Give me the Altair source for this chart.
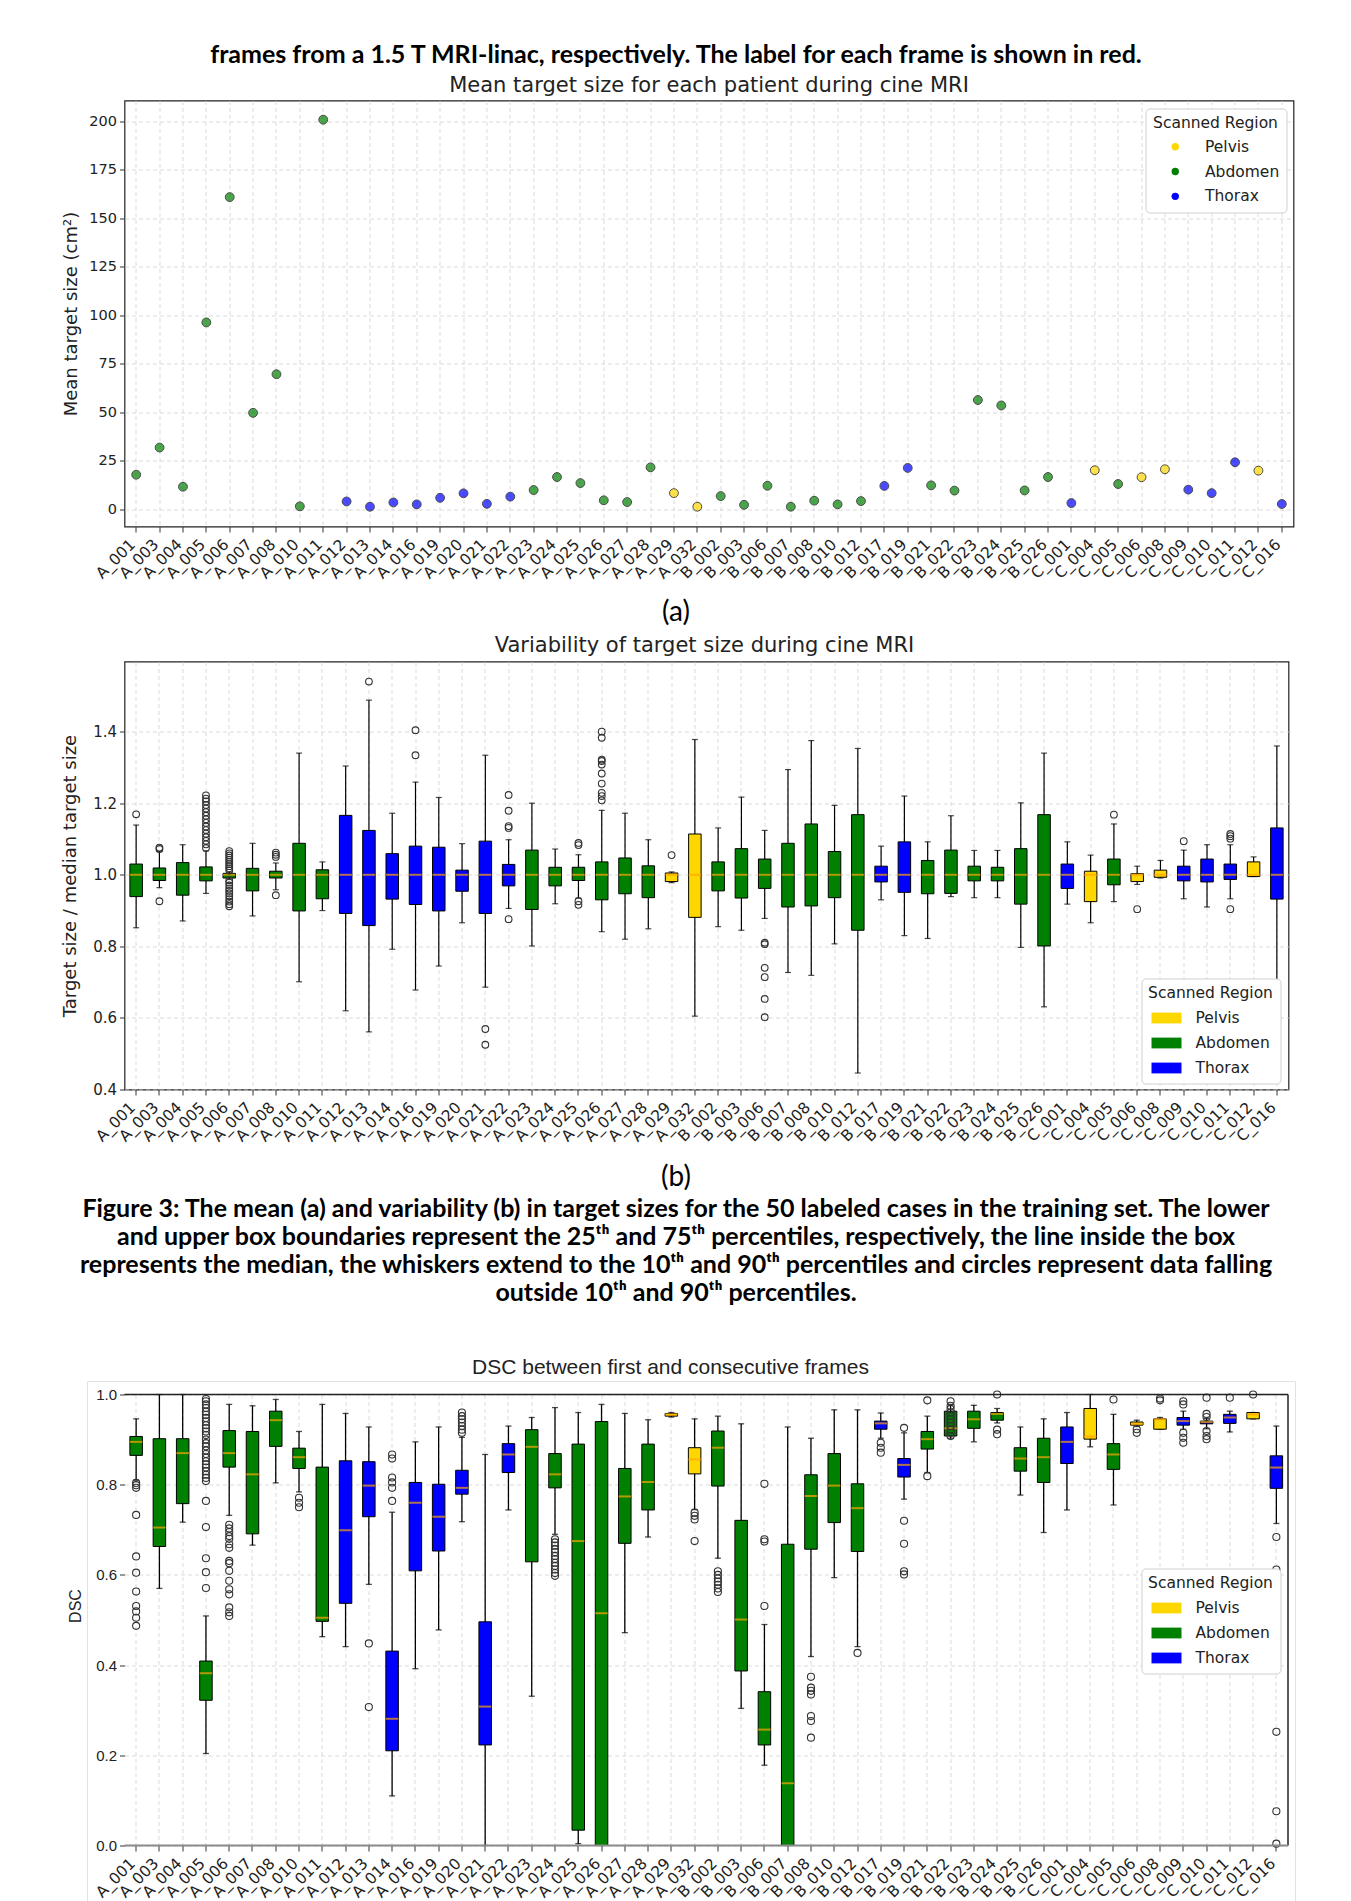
import altair as alt
import pandas as pd

# ---------------------------------------------------------------- data
CATS = ["A_001", "A_003", "A_004", "A_005", "A_006", "A_007", "A_008", "A_010", "A_011", "A_012",
        "A_013", "A_014", "A_016", "A_019", "A_020", "A_021", "A_022", "A_023", "A_024", "A_025",
        "A_026", "A_027", "A_028", "A_029", "A_032", "B_002", "B_003", "B_006", "B_007", "B_008",
        "B_010", "B_012", "B_017", "B_019", "B_021", "B_022", "B_023", "B_024", "B_025", "B_026",
        "C_001", "C_004", "C_005", "C_006", "C_008", "C_009", "C_010", "C_011", "C_012", "C_016"]

REGION = ["Abdomen", "Abdomen", "Abdomen", "Abdomen", "Abdomen", "Abdomen", "Abdomen", "Abdomen", "Abdomen", "Thorax",
          "Thorax", "Thorax", "Thorax", "Thorax", "Thorax", "Thorax", "Thorax", "Abdomen", "Abdomen", "Abdomen",
          "Abdomen", "Abdomen", "Abdomen", "Pelvis", "Pelvis", "Abdomen", "Abdomen", "Abdomen", "Abdomen", "Abdomen",
          "Abdomen", "Abdomen", "Thorax", "Thorax", "Abdomen", "Abdomen", "Abdomen", "Abdomen", "Abdomen", "Abdomen",
          "Thorax", "Pelvis", "Abdomen", "Pelvis", "Pelvis", "Thorax", "Thorax", "Thorax", "Pelvis", "Thorax"]

# (a) mean target size (cm^2)
MEAN_SIZE = [17.9, 31.9, 11.7, 96.4, 161.0, 49.8, 69.7, 1.6, 200.9, 4.1,
             1.4, 3.6, 2.6, 6.0, 8.3, 2.9, 6.6, 10.0, 16.7, 13.6,
             4.7, 3.8, 21.7, 8.4, 1.4, 6.9, 2.4, 12.2, 1.4, 4.5,
             2.6, 4.3, 12.1, 21.4, 12.4, 9.7, 56.4, 53.6, 9.8, 16.7,
             3.3, 20.2, 13.1, 16.6, 20.7, 10.2, 8.4, 24.3, 20.0, 2.8]

# (b) target size / median target size
REL_Q1 = [0.939, 0.984, 0.943, 0.983, 0.991, 0.955, 0.991, 0.899, 0.933, 0.892,
          0.858, 0.932, 0.917, 0.899, 0.954, 0.892, 0.969, 0.903, 0.969, 0.984,
          0.930, 0.947, 0.936, 0.981, 0.881, 0.955, 0.935, 0.962, 0.910, 0.913,
          0.936, 0.845, 0.980, 0.951, 0.947, 0.948, 0.983, 0.983, 0.918, 0.801,
          0.962, 0.925, 0.972, 0.981, 0.993, 0.983, 0.980, 0.987, 0.995, 0.932]
REL_MED = [1.0, 1.0, 1.0, 1.0, 1.0, 1.0, 1.0, 1.0, 1.0, 1.0,
           1.0, 1.0, 1.0, 1.0, 1.0, 1.0, 1.0, 1.0, 1.0, 1.0,
           1.0, 1.0, 1.0, 1.0, 1.0, 1.0, 1.0, 1.0, 1.0, 1.0,
           1.0, 1.0, 1.0, 1.0, 1.0, 1.0, 1.0, 1.0, 1.0, 1.0,
           1.0, 1.0, 1.0, 1.0, 1.0, 1.0, 1.0, 1.0, 1.0, 1.0]
REL_Q3 = [1.030, 1.019, 1.034, 1.022, 1.004, 1.018, 1.010, 1.088, 1.014, 1.166,
          1.124, 1.059, 1.080, 1.077, 1.013, 1.094, 1.029, 1.069, 1.021, 1.021,
          1.036, 1.047, 1.025, 1.005, 1.114, 1.036, 1.073, 1.044, 1.088, 1.142,
          1.065, 1.168, 1.024, 1.092, 1.040, 1.069, 1.024, 1.021, 1.073, 1.168,
          1.030, 1.010, 1.044, 1.003, 1.013, 1.024, 1.044, 1.030, 1.036, 1.131]
REL_LO = [0.852, 0.964, 0.871, 0.948, 0.988, 0.885, 0.958, 0.701, 0.900, 0.620,
          0.561, 0.792, 0.678, 0.745, 0.866, 0.686, 0.906, 0.801, 0.919, 0.935,
          0.841, 0.820, 0.849, 0.978, 0.605, 0.855, 0.845, 0.878, 0.727, 0.719,
          0.807, 0.446, 0.930, 0.830, 0.822, 0.939, 0.936, 0.936, 0.797, 0.631,
          0.918, 0.866, 0.925, 0.973, 0.991, 0.933, 0.910, 0.933, 0.995, 0.620]
REL_HI = [1.139, 1.065, 1.084, 1.067, 1.007, 1.088, 1.033, 1.340, 1.036, 1.304,
          1.488, 1.172, 1.259, 1.216, 1.087, 1.334, 1.098, 1.200, 1.072, 1.056,
          1.180, 1.172, 1.098, 1.008, 1.378, 1.131, 1.217, 1.124, 1.294, 1.375,
          1.194, 1.353, 1.080, 1.220, 1.092, 1.165, 1.068, 1.068, 1.201, 1.340,
          1.092, 1.055, 1.142, 1.024, 1.040, 1.069, 1.084, 1.084, 1.050, 1.360]
REL_OUT = {
    "A_001": [1.169],
    "A_003": [1.072, 1.076, 0.926],
    "A_005": [1.075, 1.085, 1.095, 1.105, 1.115, 1.125, 1.135, 1.145, 1.155, 1.165,
              1.175, 1.185, 1.195, 1.205, 1.213, 1.222],
    "A_006": [1.012, 1.018, 1.024, 1.030, 1.036, 1.042, 1.048, 1.054, 1.060, 1.066,
              0.985, 0.978, 0.970, 0.962, 0.955, 0.948, 0.940, 0.932, 0.925, 0.918, 0.912],
    "A_008": [1.050, 1.056, 1.062, 0.943],
    "A_013": [1.540],
    "A_016": [1.404, 1.334],
    "A_021": [0.569, 0.525],
    "A_022": [1.223, 1.179, 1.136, 1.131, 0.876],
    "A_025": [1.089, 1.083, 0.926, 0.916],
    "A_026": [1.208, 1.220, 1.229, 1.255, 1.283, 1.308, 1.318, 1.322, 1.383, 1.400],
    "A_029": [1.055],
    "B_006": [0.810, 0.806, 0.740, 0.714, 0.653, 0.602],
    "C_005": [1.168],
    "C_006": [0.904],
    "C_009": [1.094],
    "C_011": [1.114, 1.108, 1.101, 0.904],
}

# DSC between first and consecutive frames
DSC_Q1 = [0.865, 0.663, 0.758, 0.322, 0.839, 0.691, 0.885, 0.836, 0.497, 0.537,
          0.729, 0.210, 0.609, 0.653, 0.779, 0.223, 0.827, 0.629, 0.793, 0.034,
          0.000, 0.670, 0.744, 0.952, 0.824, 0.797, 0.387, 0.223, 0.000, 0.657,
          0.716, 0.652, 0.923, 0.817, 0.879, 0.908, 0.925, 0.943, 0.830, 0.805,
          0.847, 0.901, 0.834, 0.932, 0.923, 0.932, 0.935, 0.936, 0.946, 0.792]
DSC_MED = [0.895, 0.705, 0.870, 0.382, 0.870, 0.823, 0.943, 0.861, 0.505, 0.699,
           0.798, 0.281, 0.760, 0.729, 0.793, 0.308, 0.867, 0.884, 0.823, 0.675,
           0.515, 0.774, 0.806, 0.956, 0.856, 0.882, 0.501, 0.257, 0.138, 0.775,
           0.798, 0.748, 0.936, 0.844, 0.901, 0.925, 0.945, 0.957, 0.858, 0.861,
           0.895, 0.907, 0.867, 0.935, 0.945, 0.941, 0.939, 0.949, 0.956, 0.838]
DSC_Q3 = [0.907, 0.902, 0.902, 0.409, 0.920, 0.918, 0.963, 0.881, 0.839, 0.853,
          0.851, 0.431, 0.805, 0.801, 0.832, 0.496, 0.891, 0.922, 0.869, 0.890,
          0.940, 0.836, 0.890, 0.958, 0.882, 0.919, 0.721, 0.341, 0.668, 0.822,
          0.869, 0.802, 0.941, 0.858, 0.918, 0.963, 0.963, 0.960, 0.882, 0.903,
          0.928, 0.969, 0.891, 0.939, 0.946, 0.949, 0.941, 0.956, 0.960, 0.864]
DSC_LO = [0.810, 0.570, 0.717, 0.204, 0.732, 0.666, 0.804, 0.784, 0.463, 0.441,
          0.579, 0.110, 0.392, 0.478, 0.718, 0.000, 0.744, 0.331, 0.690, 0.004,
          0.000, 0.472, 0.684, 0.950, 0.745, 0.637, 0.304, 0.178, 0.000, 0.419,
          0.594, 0.441, 0.903, 0.768, 0.827, 0.903, 0.895, 0.937, 0.777, 0.694,
          0.744, 0.884, 0.755, 0.929, 0.923, 0.923, 0.924, 0.917, 0.946, 0.714]
DSC_HI = [0.946, 1.000, 1.000, 0.509, 0.978, 0.975, 0.989, 0.918, 0.978, 0.958,
          0.928, 0.739, 0.895, 0.928, 0.905, 0.867, 0.930, 0.949, 0.971, 0.960,
          0.978, 0.958, 0.944, 0.960, 0.946, 0.952, 0.935, 0.490, 0.928, 0.903,
          0.966, 0.966, 0.959, 0.915, 0.952, 0.978, 0.976, 0.969, 0.928, 0.946,
          0.960, 1.000, 0.956, 0.943, 0.949, 0.963, 0.947, 0.963, 0.960, 0.930]
DSC_OUT = {
    "A_001": [0.804, 0.799, 0.793, 0.733, 0.641, 0.605, 0.563, 0.531, 0.519, 0.505, 0.487],
    "A_005": [0.990, 0.985, 0.978, 0.970, 0.962, 0.955, 0.948, 0.940, 0.932, 0.925,
              0.918, 0.910, 0.900, 0.892, 0.885, 0.876, 0.868, 0.860, 0.852, 0.845,
              0.838, 0.830, 0.822, 0.815, 0.808, 0.764, 0.706, 0.637, 0.606, 0.571],
    "A_006": [0.711, 0.703, 0.695, 0.686, 0.680, 0.668, 0.660, 0.631, 0.626, 0.609,
              0.587, 0.568, 0.557, 0.528, 0.517, 0.509],
    "A_010": [0.771, 0.760, 0.750],
    "A_013": [0.448, 0.307],
    "A_014": [0.867, 0.858, 0.816, 0.805, 0.793, 0.764],
    "A_020": [0.960, 0.952, 0.945, 0.938, 0.930, 0.922, 0.915],
    "A_024": [0.679, 0.672, 0.665, 0.657, 0.650, 0.642, 0.635, 0.627, 0.620, 0.612, 0.604, 0.598],
    "A_032": [0.738, 0.731, 0.723, 0.675],
    "B_002": [0.608, 0.600, 0.592, 0.585, 0.578, 0.570, 0.562],
    "B_006": [0.802, 0.679, 0.674, 0.531],
    "B_008": [0.374, 0.350, 0.343, 0.335, 0.287, 0.276, 0.239],
    "B_012": [0.427],
    "B_017": [0.893, 0.882, 0.871],
    "B_019": [0.926, 0.720, 0.669, 0.608, 0.601],
    "B_021": [0.987, 0.819],
    "B_022": [0.985, 0.975, 0.968, 0.960, 0.952, 0.945, 0.938, 0.930, 0.922, 0.915, 0.908],
    "B_024": [1.000, 0.922, 0.912],
    "C_005": [0.989],
    "C_006": [0.923, 0.915],
    "C_008": [0.991, 0.987],
    "C_009": [0.985, 0.978, 0.915, 0.904, 0.893],
    "C_010": [0.993, 0.957, 0.950, 0.919, 0.908, 0.901],
    "C_011": [0.993],
    "C_012": [1.000],
    "C_016": [0.684, 0.612, 0.252, 0.076, 0.004],
}

REGIONS = ["Pelvis", "Abdomen", "Thorax"]
REGION_COLORS = ["#FFD700", "#008000", "#0000FF"]

TOP_LINE = "frames from a 1.5 T MRI-linac, respectively. The label for each frame is shown in red."
TITLE_A = "Mean target size for each patient during cine MRI"
TITLE_B = "Variability of target size during cine MRI"
TITLE_C = "DSC between first and consecutive frames"
CAPTION = ("Figure 3: The mean (a) and variability (b) in target sizes for the 50 labeled cases in the training set. The lower\n"
           "and upper box boundaries represent the 25\u1d57\u02b0 and 75\u1d57\u02b0 percentiles, respectively, the line inside the box\n"
           "represents the median, the whiskers extend to the 10\u1d57\u02b0 and 90\u1d57\u02b0 percentiles and circles represent data falling\n"
           "outside 10\u1d57\u02b0 and 90\u1d57\u02b0 percentiles.")

# ---------------------------------------------------------------- helpers
MPL = "DejaVu Sans"
ARIAL = "Liberation Sans"
PAGE = "Lato"
GRID = dict(grid=True, gridColor="#d2d2d2", gridDash=[4, 3], gridWidth=0.8)
PAGE_CX = 551.5          # page centre, relative to the plot areas' left edge
one = pd.DataFrame({"k": [0]})


def color_enc(leg):
    return alt.Color("region:N", scale=alt.Scale(domain=REGIONS, range=REGION_COLORS), legend=leg)


def x_enc(font=MPL):
    return alt.X("cat:N", sort=CATS,
                 scale=alt.Scale(type="band", paddingInner=0, paddingOuter=0),
                 axis=alt.Axis(title=None, labelAngle=-45, labelAlign="right", labelBaseline="alphabetic",
                               labelFont=font, labelFontSize=15.5, labelColor="#222", labelPadding=13,
                               labelOverlap=False, labelBound=False, labelFlush=False,
                               tickSize=5.5, tickColor="#333", tickWidth=1, domain=False,
                               bandPosition=0.5, **GRID))


def text_layer(txt, x, y, size, font, weight="normal", color="#000", line_height=None):
    kw = dict(align="center", baseline="alphabetic", font=font, fontSize=size,
              fontWeight=weight, color=color)
    if line_height:
        kw.update(lineBreak="\n", lineHeight=line_height)
    return alt.Chart(pd.DataFrame({"t": [txt]})).mark_text(**kw).encode(
        text="t:N", x=alt.value(x), y=alt.value(y))


def legend(x, y, circle):
    common = dict(title="Scanned Region", orient="none", legendX=x, legendY=y,
                  titleFont=MPL, titleFontSize=15.5, titleFontWeight="normal", titleColor="#222",
                  titleAnchor="middle",
                  labelFont=MPL, labelFontSize=15.5, labelColor="#222",
                  symbolStrokeWidth=0, symbolOpacity=1, padding=7,
                  strokeColor="#cfcfcf", cornerRadius=4, fillColor="white")
    if circle:
        return alt.Legend(symbolType="circle", symbolSize=55, symbolOffset=15, titlePadding=8,
                          labelOffset=22, rowPadding=7.8, **common)
    return alt.Legend(symbolType="M-1.25,-0.45H1.25V0.45H-1.25Z", symbolSize=576, symbolOffset=4,
                      titlePadding=5, labelOffset=17, rowPadding=4, **common)


def boxplot(stats, outs, y_scale, y_axis, leg, out_size, whisk_w=1.2):
    base = alt.Chart(stats)

    def Y(f):
        return alt.Y(f, scale=y_scale, axis=y_axis)

    whisk = base.mark_rule(color="black", strokeWidth=whisk_w).encode(x=x_enc(), y=Y("lo:Q"), y2="hi:Q")
    cap_lo = base.mark_tick(color="black", size=6, thickness=whisk_w).encode(x=x_enc(), y=Y("lo:Q"))
    cap_hi = base.mark_tick(color="black", size=6, thickness=whisk_w).encode(x=x_enc(), y=Y("hi:Q"))
    box = base.mark_bar(size=12.5, stroke="black", strokeWidth=1).encode(
        x=x_enc(), y=Y("q1:Q"), y2="q3:Q", color=color_enc(leg))
    med = base.mark_tick(color="#FFA500", size=12.5, thickness=2).encode(x=x_enc(), y=Y("med:Q"))
    pts = alt.Chart(outs).mark_point(shape="circle", filled=False, size=out_size,
                                     color="#333", strokeWidth=1.1, opacity=1).encode(x=x_enc(), y=Y("v:Q"))
    return [whisk, cap_lo, cap_hi, box, med, pts]


def y_axis(values, title, tx, ty, font=MPL, size=14.5, title_size=18, fmt=None):
    kw = dict(values=values, title=title, titleX=tx, titleY=ty, titleAngle=-90, titleAlign="center",
              titleBaseline="middle", titleFont=font, titleFontSize=title_size, titleFontWeight="normal",
              titleColor="#222", labelFont=font, labelFontSize=size, labelColor="#222", labelPadding=3,
              tickSize=5, tickColor="#333", domain=False, **GRID)
    if fmt:
        kw["format"] = fmt
    return alt.Axis(**kw)


# ---------------------------------------------------------------- chart (a)
WA, HA = 1169, 426
df_a = pd.DataFrame({"cat": CATS, "region": REGION, "v": MEAN_SIZE})
ya = alt.Y("v:Q", scale=alt.Scale(domain=[-8.8, 210.8], nice=False, zero=False),
           axis=y_axis([0, 25, 50, 75, 100, 125, 150, 175, 200], "Mean target size (cm\u00b2)", -53, HA / 2))
scatter = alt.Chart(df_a).mark_point(filled=True, size=78, opacity=0.7, stroke="black",
                                     strokeWidth=1, shape="circle").encode(
    x=x_enc(), y=ya, color=color_enc(legend(1021, 8, True)))
anchor = alt.Chart(one).mark_rule(strokeOpacity=0, strokeWidth=1).encode(
    x=alt.value(-80), y=alt.value(-70), y2=alt.value(-60))
chart_a = alt.layer(
    anchor,
    scatter,
    text_layer(TOP_LINE, PAGE_CX, -38, 25, PAGE, "bold"),
    text_layer(TITLE_A, WA / 2, -8.5, 21, MPL, color="#222"),
    text_layer("(a)", PAGE_CX, 520, 28, PAGE),
).properties(width=WA, height=HA, view=alt.ViewBackground(stroke="#222", strokeWidth=1.2))

# ---------------------------------------------------------------- chart (b)
WB, HB = 1164, 428
stats_b = pd.DataFrame({"cat": CATS, "region": REGION, "q1": REL_Q1, "med": REL_MED,
                        "q3": REL_Q3, "lo": REL_LO, "hi": REL_HI})
outs_b = pd.DataFrame([(c, v) for c in CATS for v in REL_OUT.get(c, [])], columns=["cat", "v"])
yb_scale = alt.Scale(domain=[0.4, 1.596], nice=False, zero=False)
yb_axis = y_axis([0.4, 0.6, 0.8, 1.0, 1.2, 1.4], "Target size / median target size", -54, HB / 2,
                 size=15, fmt=".1f")
chart_b = alt.layer(
    *boxplot(stats_b, outs_b, yb_scale, yb_axis, legend(1017, 317, False), 45),
    text_layer(TITLE_B, 580, -9.5, 21, MPL, color="#222"),
    text_layer("(b)", PAGE_CX, 524, 28, PAGE),
).properties(width=WB, height=HB, view=alt.ViewBackground(stroke="#222", strokeWidth=1.2))

# ---------------------------------------------------------------- spacer between (b) and (c)
spacer = alt.Chart(one).mark_point(opacity=0).encode(
    x=alt.value(0), y=alt.value(0)).properties(width=10, height=34.5, view=alt.ViewBackground(strokeWidth=0))

# ---------------------------------------------------------------- chart (c)
WC, HC = 1163.5, 451
stats_c = pd.DataFrame({"cat": CATS, "region": REGION, "q1": DSC_Q1, "med": DSC_MED,
                        "q3": DSC_Q3, "lo": DSC_LO, "hi": DSC_HI})
outs_c = pd.DataFrame([(c, v) for c in CATS for v in DSC_OUT.get(c, [])], columns=["cat", "v"])
yc_scale = alt.Scale(domain=[0, 1.0], nice=False, zero=False)
yc_axis = y_axis([0.0, 0.2, 0.4, 0.6, 0.8, 1.0], "DSC", -49, 211, font=ARIAL, size=15,
                 title_size=16, fmt=".1f")
frame_col = "#e2e2e2"
frame = [
    alt.Chart(one).mark_rule(color=frame_col, strokeWidth=1).encode(x=alt.value(-37), y=alt.value(-13), y2=alt.value(700)),
    alt.Chart(one).mark_rule(color=frame_col, strokeWidth=1).encode(x=alt.value(1171), y=alt.value(-13), y2=alt.value(700)),
    alt.Chart(one).mark_rule(color=frame_col, strokeWidth=1).encode(x=alt.value(-37), x2=alt.value(1171), y=alt.value(-13)),
]
spines = [
    alt.Chart(one).mark_rule(color="#222", strokeWidth=1.5).encode(x=alt.value(0), x2=alt.value(WC), y=alt.value(0)),
    alt.Chart(one).mark_rule(color="#222", strokeWidth=1.5).encode(x=alt.value(WC), y=alt.value(0), y2=alt.value(HC)),
    alt.Chart(one).mark_rule(color="#8a8a8a", strokeWidth=2).encode(x=alt.value(0), x2=alt.value(WC), y=alt.value(HC)),
]
chart_c = alt.layer(
    *frame,
    *boxplot(stats_c, outs_c, yc_scale, yc_axis, legend(1017, 174, False), 50, whisk_w=1.3),
    *spines,
    text_layer(CAPTION, PAGE_CX, -177.5, 25, PAGE, "bold", line_height=28),
    text_layer(TITLE_C, 546, -21, 21, ARIAL, color="#222"),
).properties(width=WC, height=HC, view=alt.ViewBackground(strokeWidth=0))

chart = alt.vconcat(chart_a, chart_b, spacer, chart_c, spacing=135, bounds="flush").resolve_scale(
    x="independent", y="independent", color="independent"
).resolve_legend(color="independent").properties(
    padding={"left": 35.5, "top": 21.5, "right": 0, "bottom": 0}
).configure(background="white")

chart.save("out.html", embed_options={"renderer": "svg", "actions": False})
